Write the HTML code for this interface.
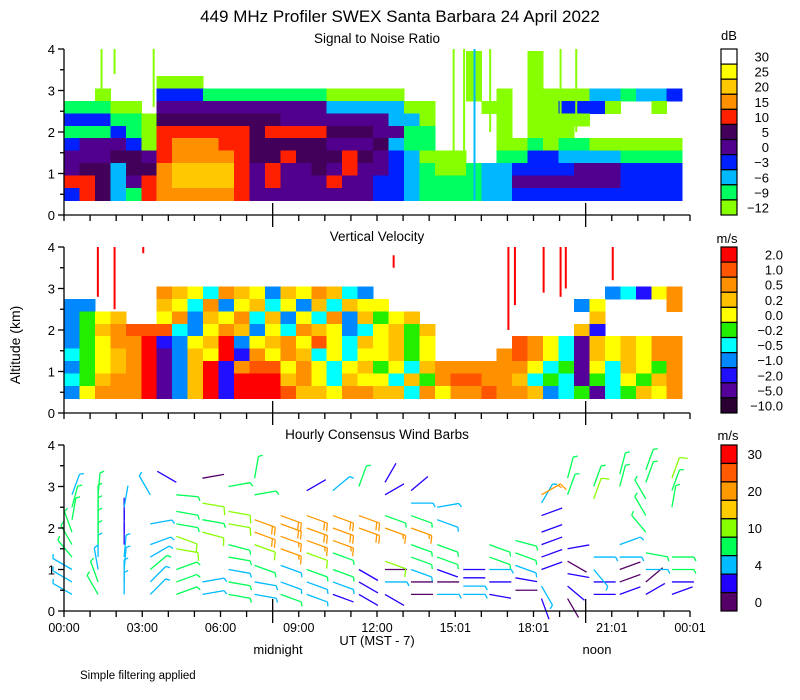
<!DOCTYPE html>
<html><head><meta charset="utf-8"><style>
body{margin:0;background:#fff}
svg{display:block;font-family:"Liberation Sans",sans-serif}
text{fill:#000}
</style></head><body>
<svg id="chart" width="800" height="700" viewBox="0 0 800 700" xmlns="http://www.w3.org/2000/svg">
<text x="400" y="22" font-size="17" text-anchor="middle">449 MHz Profiler SWEX Santa Barbara 24 April 2022</text>
<text x="377" y="43" font-size="13.5" text-anchor="middle">Signal to Noise Ratio</text>
<text x="377" y="241" font-size="13.5" text-anchor="middle">Vertical Velocity</text>
<text x="377" y="439" font-size="13.5" text-anchor="middle">Hourly Consensus Wind Barbs</text>
<text x="0" y="0" font-size="14" text-anchor="middle" transform="translate(20,345) rotate(-90)">Altitude (km)</text>
<text x="377" y="645" font-size="13" text-anchor="middle">UT  (MST - 7)</text>
<text x="278" y="654" font-size="13" text-anchor="middle">midnight</text>
<text x="597" y="654" font-size="13" text-anchor="middle">noon</text>
<text x="80" y="679" font-size="11.5">Simple filtering applied</text>
<g id="layers"></g>
</svg>
<script>
// ---- data ----
const xTickLabels = ["00:00","03:00","06:00","09:00","12:00","15:01","18:01","21:01","00:01"];
const snrCbLabels = ["30","25","20","15","10","5","0","\u22123","\u22126","\u22129","\u221212"];
const velCbLabels = ["2.0","1.0","0.5","0.2","0.0","\u22120.2","\u22120.5","\u22121.0","\u22122.0","\u22125.0","\u221210.0"];
const windCbLabels = ["30","","20","","10","","4","","0"];
const gridAlts = [3.8,3.5,3.2,2.9,2.6,2.3,2.0,1.7,1.4,1.1,0.8,0.5];
const gridEndHour = 23.7;
// run-length rows: token = count + level char ('.' = empty)
const snrRows = [
"26. 10 3. 10 9.",
"26. 10 3. 10 9.",
"6. 30 17. 10 3. 10 9.",
"2. 10 3. 33 81 50 4. 10 1. 10 1. 40 22 11 22 13",
"31 20 1. 114 52 20 3. 20 1. 20 33 10 2. 10 1.",
"33 21 10 85 74 22 10 4. 10 1. 40 6.",
"31 13 11 10 66 15 46 35 24 21 4. 10 1. 30 7.",
"13 34 13 10 16 37 26 55 34 15 12 21 4. 20 11 10 21 60",
"34 25 14 16 47 16 25 16 35 16 15 14 13 12 30 2. 21 23 12 32 41",
"14 25 12 25 17 48 16 14 16 24 15 14 16 14 14 13 12 11 20 11 22 33 13 34 43",
"26 15 12 14 16 17 48 16 14 16 34 16 24 13 13 12 31 11 22 34 44 43",
"13 16 15 12 11 16 17 47 16 84 13 13 12 41 22 33 43 43"];
const velRows = [
"40.",
"40.",
"40.",
"6. 18 17 16 14 18 17 16 13 17 16 18 17 14 13 15. 13 14 12 16 18",
"23 4. 17 16 14 18 13 16 17 14 16 13 17 14 17 16 16 12. 13 16 4. 18",
"13 15 16 17 2. 16 18 13 17 16 18 14 17 13 16 14 18 13 17 15 16 17 11. 17 5.",
"13 15 17 18 29 19 14 13 16 18 17 13 16 14 18 17 16 13 14 16 17 15 17 9. 17 12 5.",
"13 15 16 28 1a 12 13 16 17 1a 13 16 17 18 16 19 16 14 17 16 17 15 16 5. 19 18 16 14 11 17 16 17 16 28",
"14 15 16 17 18 1a 11 13 17 16 1a 12 18 16 18 17 14 16 14 16 16 17 15 16 4. 18 19 18 16 14 11 17 16 17 16 28",
"13 15 16 17 18 1a 11 13 17 1a 12 18 29 16 18 16 14 16 17 15 16 14 17 58 18 16 14 15 11 16 14 17 16 15 18",
"14 15 17 28 1a 11 13 17 1a 12 3a 17 18 16 14 17 16 16 14 17 15 18 29 28 17 14 15 14 11 15 14 16 15 17 18",
"13 16 38 1a 11 13 17 1a 12 3a 19 27 16 28 17 17 14 18 16 28 19 28 17 13 14 15 11 14 15 17 16 28"];
const snrStripes = [[1.4,3.0,4.0,0],[1.9,3.4,4.0,0],[3.4,2.6,4.0,0],[14.9,1.5,4.0,0],[15.3,1.0,4.0,0],[15.7,0.35,4.0,2],[16.3,2.0,4.0,0],[19.0,2.2,4.0,0],[19.6,2.0,4.0,0]];
const velSpikes = [[1.26,2.8,4.0],[1.9,2.5,4.0],[3.0,3.85,4.0],[12.6,3.5,3.8],[17.0,2.0,4.0],[17.25,2.6,4.0],[18.35,2.9,4.0],[19.0,2.8,4.0],[19.2,3.0,4.0],[21.0,3.2,4.0]];
const windHour = [0,0,0,0,0,0,0,0,0, 1,1,1,1,1,1,1,1,1, 2,2,2,2,2,2,2,2, 3,3,3,3,3,3,3, 4,4,4,4,4,4,4,4,4, 5,5,5,5,5,5, 6,6,6,6,6,6,6,6, 7,7,7,7,7,7,7,7, 8,8,8,8,8,8,8, 9,9,9,9,9,9,9,9, 10,10,10,10,10,10,10,10, 11,11,11,11,11,11, 12,12,12,12,12,12,12,12, 13,13,13,13,13,13,13,13,13, 14,14,14,14,14,14,14, 15,15,15,15, 16,16,16,16,16, 17,17,17,17,17, 18,18,18,18,18,18,18,18,18, 19,19,19,19,19,19,19, 20,20,20,20,20,20, 21,21,21,21,21,21,21, 22,22,22,22,22,22,22,22,22, 23,23,23,23,23,23,23];
const windAlt = [0.4,0.7,1.0,1.3,1.6,1.9,2.2,2.5,2.8, 0.4,0.7,1.0,1.3,1.6,1.9,2.2,2.5,2.8, 0.4,0.7,1.0,1.3,1.6,1.9,2.2,2.5, 0.4,0.7,1.0,1.3,1.6,2.1,2.8, 0.4,0.7,1.0,1.5,1.8,2.1,2.4,2.8,3.1, 0.4,0.7,1.9,2.2,2.6,3.2, 0.4,0.7,1.0,1.3,1.6,2.1,2.4,3.0, 0.4,0.7,1.1,1.6,1.9,2.2,2.8,3.2, 0.4,0.7,1.1,1.5,1.8,2.1,2.3, 0.4,0.7,1.0,1.4,1.7,2.0,2.3,2.9, 0.4,0.7,1.0,1.4,1.7,2.0,2.3,2.9, 0.4,0.7,1.0,2.0,2.3,3.0, 0.4,0.7,1.0,1.2,2.0,2.3,2.8,3.1, 0.4,0.7,1.0,1.3,1.6,2.0,2.3,2.6,2.9, 0.4,0.7,1.0,1.3,1.6,2.2,2.5, 0.4,0.6,0.8,1.0, 0.4,0.7,1.0,1.3,1.6, 0.5,0.8,1.1,1.4,1.7, 0.3,0.6,1.0,1.3,1.6,1.9,2.3,2.6,2.8, 0.3,0.6,0.9,1.2,1.5,2.8,3.2, 0.4,0.7,1.0,1.3,2.7,3.0, 0.4,0.7,1.0,1.3,1.6,3.0,3.3, 0.4,0.7,1.0,1.4,1.9,2.3,2.7,3.1,3.4, 0.4,0.7,1.0,1.3,2.5,2.9,3.2];
const windSpd = [5,5,6,8,8,8,8,8,6, 8,8,6,6,8,8,8,8,8, 5,5,5,5,3,2,3,4, 5,5,7,5,5,5,5, 8,8,7,10,11,8,8,8,3, 5,5,11,8,11,1, 8,8,5,8,8,11,11,8, 5,5,8,11,20,20,8,8, 8,5,5,17,17,20,20, 5,5,8,11,17,20,20,3, 3,5,8,8,17,20,20,5, 3,3,3,20,20,8, 3,5,1,11,17,8,3,3, 1,1,5,8,8,17,8,5,3, 5,1,3,8,8,5,5, 5,5,3,3, 3,3,5,8,8, 1,3,5,8,8, 3,5,3,3,3,3,3,5,17, 1,3,3,1,3,8,8, 3,3,5,5,11,8, 3,1,1,5,5,8,8, 3,1,5,8,8,8,8,8,8, 3,3,8,8,8,8,11];
const windDir = [300,300,300,320,330,340,10,15,20, 330,340,350,0,0,0,0,0,5, 0,0,5,5,0,0,0,10, 45,45,50,60,70,80,330, 70,70,70,100,110,100,100,95,300, 80,80,105,100,100,80, 100,100,100,100,105,100,100,80, 100,100,110,110,110,110,80,10, 110,110,110,110,110,110,110, 110,110,110,110,110,110,110,60, 110,110,110,110,110,110,110,50, 120,120,120,110,110,20, 120,90,90,110,110,110,60,30, 90,90,110,110,110,110,110,90,50, 90,90,110,110,110,110,80, 90,90,90,90, 100,90,90,110,110, 90,100,110,110,105, 160,150,70,70,70,70,70,30,60, 150,130,100,120,80,20,15, 90,90,140,90,20,20, 70,70,70,90,70,15,15, 60,50,90,100,320,330,330,20,20, 70,90,90,90,10,20,20];

// ---- scales ----
const NS="http://www.w3.org/2000/svg";
const X0=64, X1=690, HOURS=24;
const panelBase=[215,413,611], KM=41.5;
function X(h){return X0+(X1-X0)*h/HOURS;}
function Y(p,a){return panelBase[p]-a*KM;}
const snrCol=["#88ff00","#00ff60","#00b8ff","#0020ff","#50008c","#42005a","#ff2000","#ff9000","#ffc800","#ffff00"];
const snrCb=["#ffffff","#ffff00","#ffc800","#ff9000","#ff2000","#42005a","#50008c","#0020ff","#00b8ff","#00ff60","#88ff00"];
const velCol=["#2a0033","#550099","#2010ff","#0088ff","#00ffff","#22ee00","#ffff00","#ffc000","#ff9000","#ff5500","#ff0000"];
const velCb=velCol.slice().reverse();
const windCb=["#ff0000","#ff5a00","#ff9900","#ffcc00","#88ff00","#00ff55","#00bbff","#2200ff","#550066"];
function windColor(s){const e=[2,4,7,10,13,17,23,28];let i=0;while(i<e.length&&s>=e[i])i++;return windCb[8-i];}
const root=document.getElementById('layers');
function mk(tag,attrs,parent){const e=document.createElementNS(NS,tag);for(const k in attrs)e.setAttribute(k,attrs[k]);(parent||root).appendChild(e);return e;}
function decode(rle){let s='';rle.trim().split(/\s+/).forEach(t=>{const n=parseInt(t.slice(0,-1),10);s+=t.slice(-1).repeat(n);});return s;}

// ---- heatmaps ----
function heat(p,rows,cols,name){
  const g=mk('g',{'shape-rendering':'crispEdges'});
  
  
  const n=40;
  rows.forEach((rle,r)=>{
    const chars=decode(rle);
    for(let c=0;c<n;c++){
      const ch=chars[c]; if(!ch||ch==='.')continue;
      const v=parseInt(ch,16); if(isNaN(v)||v>=cols.length)continue;
      const t0=c*gridEndHour/n,t1=(c+1)*gridEndHour/n;
      const a=gridAlts[r];
      const y0=Y(p,a+0.15),y1=Y(p,a-0.15);
      const rc=mk('rect',{x:X(t0),y:y0,width:X(t1)-X(t0)+0.5,height:y1-y0+0.5,fill:cols[v]},g);
      
      
    }
  });
}
heat(0,snrRows,snrCol,'snr-heatmap');
snrStripes.forEach(s=>{
  const r=mk('rect',{x:X(s[0]),y:Y(0,s[2]),width:2,height:Y(0,s[1])-Y(0,s[2]),fill:snrCol[s[3]]});
  
  
});
heat(1,velRows,velCol,'velocity-heatmap');
velSpikes.forEach(s=>{
  const r=mk('rect',{x:X(s[0]),y:Y(1,s[2]),width:2,height:Y(1,s[1])-Y(1,s[2]),fill:'#ff0000'});
  
  
});

// ---- wind barbs ----
windHour.forEach((h,i)=>{
  const bx=X(h)+8, by=Y(2,windAlt[i]);
  const d=windDir[i]*Math.PI/180, dx=Math.sin(d), dy=-Math.cos(d);
  const L=22, col=windColor(windSpd[i]);
  const g=mk('g',{stroke:col,'stroke-width':1.3,fill:'none'});
  
  
  const tx=bx+dx*L, ty=by+dy*L;
  mk('line',{x1:bx,y1:by,x2:tx,y2:ty},g);
  let full=Math.floor(windSpd[i]/10), half=(windSpd[i]%10)>=5?1:0;
  const px=-dy, py=dx; let k=0;
  for(let f=0;f<full+half;f++){
    const len=(f<full)?8:4;
    const sx=tx-dx*k*3, sy=ty-dy*k*3;
    mk('line',{x1:sx,y1:sy,x2:sx+px*len+dx*2,y2:sy+py*len+dy*2},g);
    k++;
  }
});

// ---- axes ----
for(let p=0;p<3;p++){
  const top=Y(p,4), bot=Y(p,0);
  const ax=mk('g',{stroke:'#000','stroke-width':1.3});
  
  
  mk('line',{x1:X0,y1:top,x2:X0,y2:bot},ax);
  mk('line',{x1:X0,y1:bot,x2:X1,y2:bot},ax);
  for(let a=0;a<=4;a+=0.5){mk('line',{x1:X0-(a%1===0?6:4),y1:Y(p,a),x2:X0,y2:Y(p,a)},ax);}
  for(let h=0;h<=24;h++){
    const big=(h===8||h===20);
    mk('line',{x1:X(h),y1:bot+(big?-12:0),x2:X(h),y2:bot+(big?12:6)},ax);
  }
  for(let a=0;a<=4;a++){
    const t=mk('text',{x:X0-9,y:Y(p,a)+5,'font-size':13,'text-anchor':'end'});
    t.textContent=a;
    
    
  }
}
xTickLabels.forEach((l,i)=>{
  const t=mk('text',{x:X(i*3),y:632,'font-size':12.5,'text-anchor':'middle'});
  t.textContent=l;
  
  
});

// ---- colorbars ----
function cbar(top,bot,cols,labels,lx,unit,ux,uy,name){
  const g=mk('g',{});
  
  
  const h=(bot-top)/cols.length;
  cols.forEach((c,i)=>{
    mk('rect',{x:721,y:top+i*h,width:16,height:h,fill:c,stroke:'#000','stroke-width':1.2},g);
    if(labels[i]){const t=mk('text',{x:lx,y:top+i*h+h/2+5,'font-size':13,'text-anchor':'end'},g);t.textContent=labels[i];}
  });
  const u=mk('text',{x:ux,y:uy,'font-size':13,'text-anchor':'middle'},g);u.textContent=unit;
}
cbar(49,215,snrCb,snrCbLabels,769,'dB',729,40,'snr-colorbar');
cbar(247,413,velCb,velCbLabels,783,'m/s',727,243,'velocity-colorbar');
cbar(445,611,windCb,windCbLabels,762,'m/s',728,440,'wind-colorbar');
</script>
</body></html>
